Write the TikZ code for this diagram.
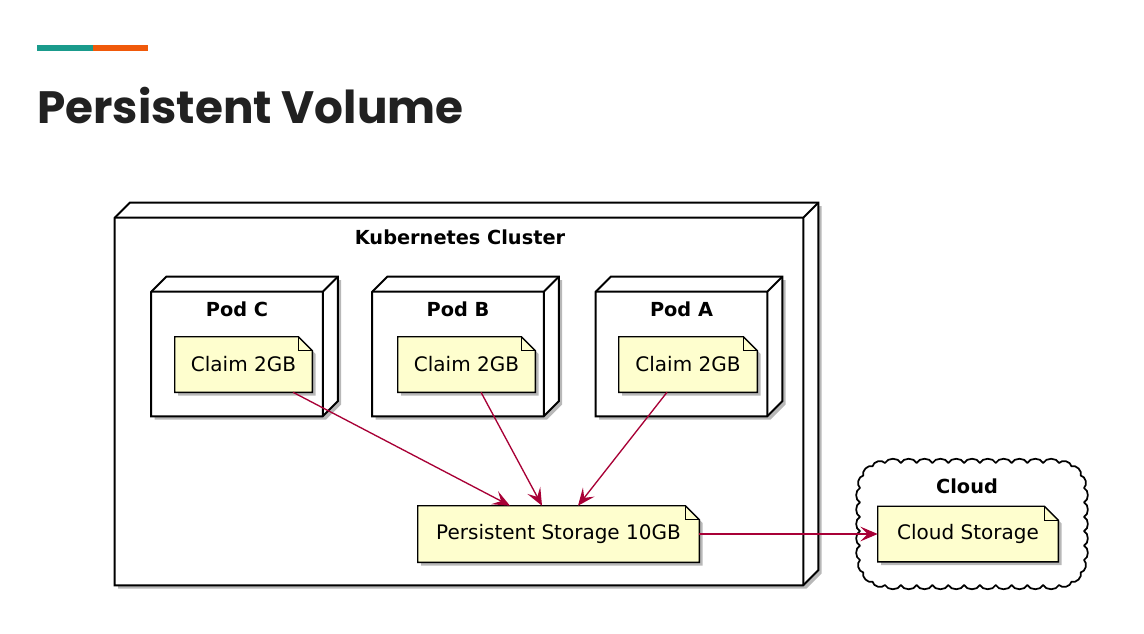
\documentclass[tikz,border=0pt]{standalone}
\usepackage{fontspec}
\setmainfont{DejaVu Sans}
\newfontfamily\titlefont{Poppins}
\usetikzlibrary{shadows,arrows.meta,calc}
\definecolor{tealbar}{HTML}{1A9B8C}
\definecolor{orangebar}{HTML}{F0590A}
\definecolor{notefill}{HTML}{FEFECE}
\definecolor{arrowred}{HTML}{A80036}
\definecolor{titlegray}{HTML}{212121}
\pgfdeclarelayer{boxes}
\pgfdeclarelayer{notebg}
\pgfsetlayers{boxes,notebg,main}
\tikzset{
  shad/.style={drop shadow={shadow xshift=2.5pt, shadow yshift=-2.5pt, opacity=0.28, fill=black}},
  boxline/.style={draw=black, line width=1.5pt, line join=miter, fill=white},
  noteline/.style={draw=black, line width=1.1pt, line join=miter, fill=notefill},
  notenode/.style={inner sep=0pt, minimum height=55*0.75pt, font=\fontsize{15pt}{18pt}\selectfont},
  podnode/.style={inner sep=0pt, minimum width=171*0.75pt, minimum height=124*0.75pt},
  lbl/.style={inner sep=0pt, font=\bfseries\fontsize{14.5pt}{17pt}\selectfont},
  conn/.style={draw=arrowred, line width=1pt, -{Stealth[length=13pt, width=11pt, inset=5.5pt]}},
  bump/.style={bend left=66},
}
\newcommand\threed[1]{%
  \begin{pgfonlayer}{boxes}
  \path[boxline, shad] (#1.south west) -- (#1.north west) -- ($(#1.north west)+(15,-15)$)
     -- ($(#1.north east)+(15,-15)$) -- ($(#1.south east)+(15,-15)$) -- (#1.south east) -- cycle;
  \draw[boxline, fill=none] (#1.north west) -- (#1.north east) -- (#1.south east)
     (#1.north east) -- ($(#1.north east)+(15,-15)$);
  \end{pgfonlayer}}
\newcommand\notebg[1]{%
  \begin{pgfonlayer}{notebg}
  \path[noteline, shad] (#1.north west) -- ($(#1.north east)+(-14,0)$) -- ($(#1.north east)+(0,14)$)
     -- (#1.south east) -- (#1.south west) -- cycle;
  \draw[noteline, fill=none] ($(#1.north east)+(-14,0)$) |- ($(#1.north east)+(0,14)$);
  \end{pgfonlayer}}
\begin{document}
\begin{tikzpicture}[x=0.75pt, y=-0.75pt]
\useasboundingbox (0,0) rectangle (1144,634);
% title
\fill[tealbar] (37,45) rectangle (93,51);
\fill[orangebar] (93,45) rectangle (148,51);
\node[anchor=base west, inner sep=0pt, text=titlegray, font=\titlefont\bfseries\fontsize{34pt}{40pt}\selectfont] (title) at (37,124) {Persistent Volume};
% cluster
\node[inner sep=0pt, minimum width=688*0.75pt, minimum height=367*0.75pt] (cluster) at (459,401.5) {};
\threed{cluster}
\node[lbl] (clusterlabel) at (460,237) {Kubernetes Cluster};
% pods
\node[podnode] (podC) at (237,354) {};
\node[podnode] (podB) at (458,354) {};
\node[podnode] (podA) at (681.5,354) {};
\threed{podC}\threed{podB}\threed{podA}
\node[lbl] (podClabel) at (237,309) {Pod C};
\node[lbl] (podBlabel) at (458,309) {Pod B};
\node[lbl] (podAlabel) at (681.5,309) {Pod A};
% notes
\node[notenode, minimum width=137*0.75pt] (noteC) at (243.5,364.5) {Claim 2GB};
\node[notenode, minimum width=137*0.75pt] (noteB) at (466.5,364.5) {Claim 2GB};
\node[notenode, minimum width=138*0.75pt] (noteA) at (688,364.5) {Claim 2GB};
\node[notenode, minimum width=281*0.75pt, minimum height=56*0.75pt] (ps) at (558.5,534) {Persistent Storage 10GB};
% cloud
\node[inner sep=0pt, minimum width=224*0.75pt, minimum height=122*0.75pt] (cloud) at (972,524) {};
\begin{pgfonlayer}{boxes}
\draw[line width=1.3pt, fill=white, line join=round]
  (885,463)
  \foreach \i in {1,...,11}{ to[bump] (885+\i*15.82,463) }
  \foreach \a in {30,60,90}{ to[bump] ({1059+25*sin(\a)},{488-25*cos(\a)}) }
  \foreach \i in {1,...,5}{ to[bump] (1084,488+\i*14.4) }
  \foreach \a in {30,60,90}{ to[bump] ({1059+25*cos(\a)},{560+25*sin(\a)}) }
  \foreach \i in {1,...,11}{ to[bump] (1059-\i*15.82,585) }
  \foreach \a in {30,60,90}{ to[bump] ({885-25*sin(\a)},{560+25*cos(\a)}) }
  \foreach \i in {1,...,5}{ to[bump] (860,560-\i*14.4) }
  \foreach \a in {30,60,90}{ to[bump] ({885-25*cos(\a)},{488-25*sin(\a)}) }
  -- cycle;
\end{pgfonlayer}
\node[lbl] (cloudlabel) at (967,486) {Cloud};
\node[notenode, minimum width=180*0.75pt] (cs) at (968,534) {Cloud Storage};
\notebg{noteC}\notebg{noteB}\notebg{noteA}\notebg{ps}\notebg{cs}
% connectors
\draw[conn] ($(noteC.south)+(49.5,0)$) -- ($(ps.north)+(-48.5,0)$);
\draw[conn] ($(noteB.south)+(14.5,0)$) -- ($(ps.north)+(-16.5,0)$);
\draw[conn] ($(noteA.south)+(-21,0)$) -- ($(ps.north)+(19.5,0)$);
\draw[conn] (ps.east) -- (cs.west);
\end{tikzpicture}
\end{document}
